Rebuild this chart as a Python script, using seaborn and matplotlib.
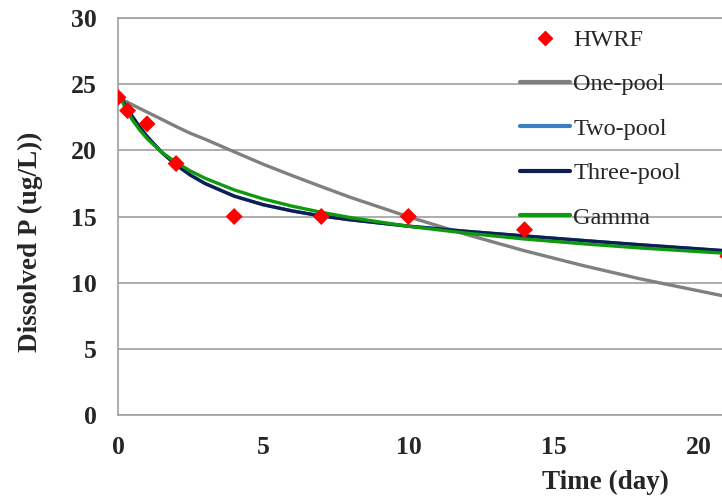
import matplotlib
matplotlib.use("Agg")
import matplotlib.pyplot as plt
from matplotlib.lines import Line2D
import seaborn as sns
import pandas as pd

# Observed dissolved P (HWRF)
obs_day = [0, 0.33, 1, 2, 4, 7, 10, 14, 21]
obs_p = [24, 23, 22, 19, 15, 15, 15, 14, 12]

# Fitted model curves
fit_day = [0, 0.25, 0.5, 0.75, 1, 1.5, 2, 2.5, 3, 4, 5, 6, 7, 8, 10, 12, 14, 16, 18, 21]
one_pool = [24.00, 23.72, 23.44, 23.16, 22.89, 22.35, 21.80, 21.28, 20.84, 19.89, 18.95,
            18.09, 17.26, 16.45, 14.98, 13.64, 12.41, 11.30, 10.28, 8.93]
two_pool = [24.40, 23.42, 22.54, 21.75, 21.05, 19.86, 18.90, 18.12, 17.49, 16.54, 15.89,
            15.42, 15.04, 14.75, 14.27, 13.88, 13.53, 13.19, 12.86, 12.40]
three_pool = [24.40, 23.42, 22.54, 21.75, 21.05, 19.86, 18.90, 18.12, 17.49, 16.54, 15.89,
              15.42, 15.04, 14.75, 14.27, 13.88, 13.53, 13.19, 12.86, 12.40]
gamma = [24.40, 23.21, 22.28, 21.53, 20.89, 19.87, 19.08, 18.43, 17.89, 17.01, 16.33,
         15.78, 15.32, 14.92, 14.26, 13.74, 13.30, 12.94, 12.62, 12.21]

series_names = ["One-pool", "Two-pool", "Three-pool", "Gamma"]
series_vals = [one_pool, two_pool, three_pool, gamma]
colors = {"One-pool": "#808080", "Two-pool": "#3A7FC4",
          "Three-pool": "#0C1E52", "Gamma": "#0E9A0E"}

fits = pd.concat(
    [pd.DataFrame({"day": fit_day, "p": v, "model": n}) for n, v in zip(series_names, series_vals)],
    ignore_index=True,
)
obs = pd.DataFrame({"day": obs_day, "p": obs_p})

sns.set_style("white")
plt.rcParams["font.family"] = ["Liberation Serif", "DejaVu Serif"]

fig = plt.figure(figsize=(7.22, 5.04), dpi=100)
ax = fig.add_axes([118 / 722, 89 / 504, 604 / 722, 397 / 504])

for i, name in enumerate(series_names):
    sns.lineplot(data=fits[fits.model == name], x="day", y="p", color=colors[name],
                 linewidth=2.4, ax=ax, legend=False, zorder=2 + i)
sns.scatterplot(data=obs, x="day", y="p", marker="D", color="#FF0000", s=75,
                edgecolor="none", ax=ax, legend=False, zorder=10)

ax.set_xlim(0, 20.8)
ax.set_ylim(0, 30)
ax.set_xticks([0, 5, 10, 15, 20])
ax.set_yticks([0, 5, 10, 15, 20, 25, 30])
ax.yaxis.grid(True, color="#A0A0A0", linewidth=1.2)
ax.xaxis.grid(False)
for side in ["left", "bottom", "top"]:
    ax.spines[side].set_color("#A0A0A0")
    ax.spines[side].set_linewidth(1.2)
ax.spines["right"].set_visible(False)
ax.tick_params(axis="both", length=0, labelsize=18.5)
ax.tick_params(axis="y", pad=15)
ax.tick_params(axis="x", pad=15)
for lab in ax.get_xticklabels() + ax.get_yticklabels():
    lab.set_fontweight("bold")

ax.set_xlabel("")
ax.set_ylabel("")
fig.text(605 / 722, 1 - 482 / 504, "Time (day)", ha="center", va="center",
         fontsize=19.5, fontweight="bold")
fig.text(30 / 722, 1 - 242 / 504, "Dissolved P (ug/L))", ha="center", va="center",
         rotation=90, fontsize=19.5, fontweight="bold")

handles = [Line2D([], [], marker="D", color="#FF0000", linestyle="none", markersize=7)]
handles += [Line2D([], [], color=colors[n], linewidth=3) for n in series_names]
labels = ["HWRF"] + series_names
ax.legend(handles, labels, loc="upper left", bbox_to_anchor=(520 / 722, 1 - 29 / 504),
          bbox_transform=fig.transFigure, frameon=False, fontsize=17.5,
          handlelength=2.05, handletextpad=0.15, labelspacing=0.92, borderpad=0,
          borderaxespad=0)

fig.savefig("out.png", dpi=100)
